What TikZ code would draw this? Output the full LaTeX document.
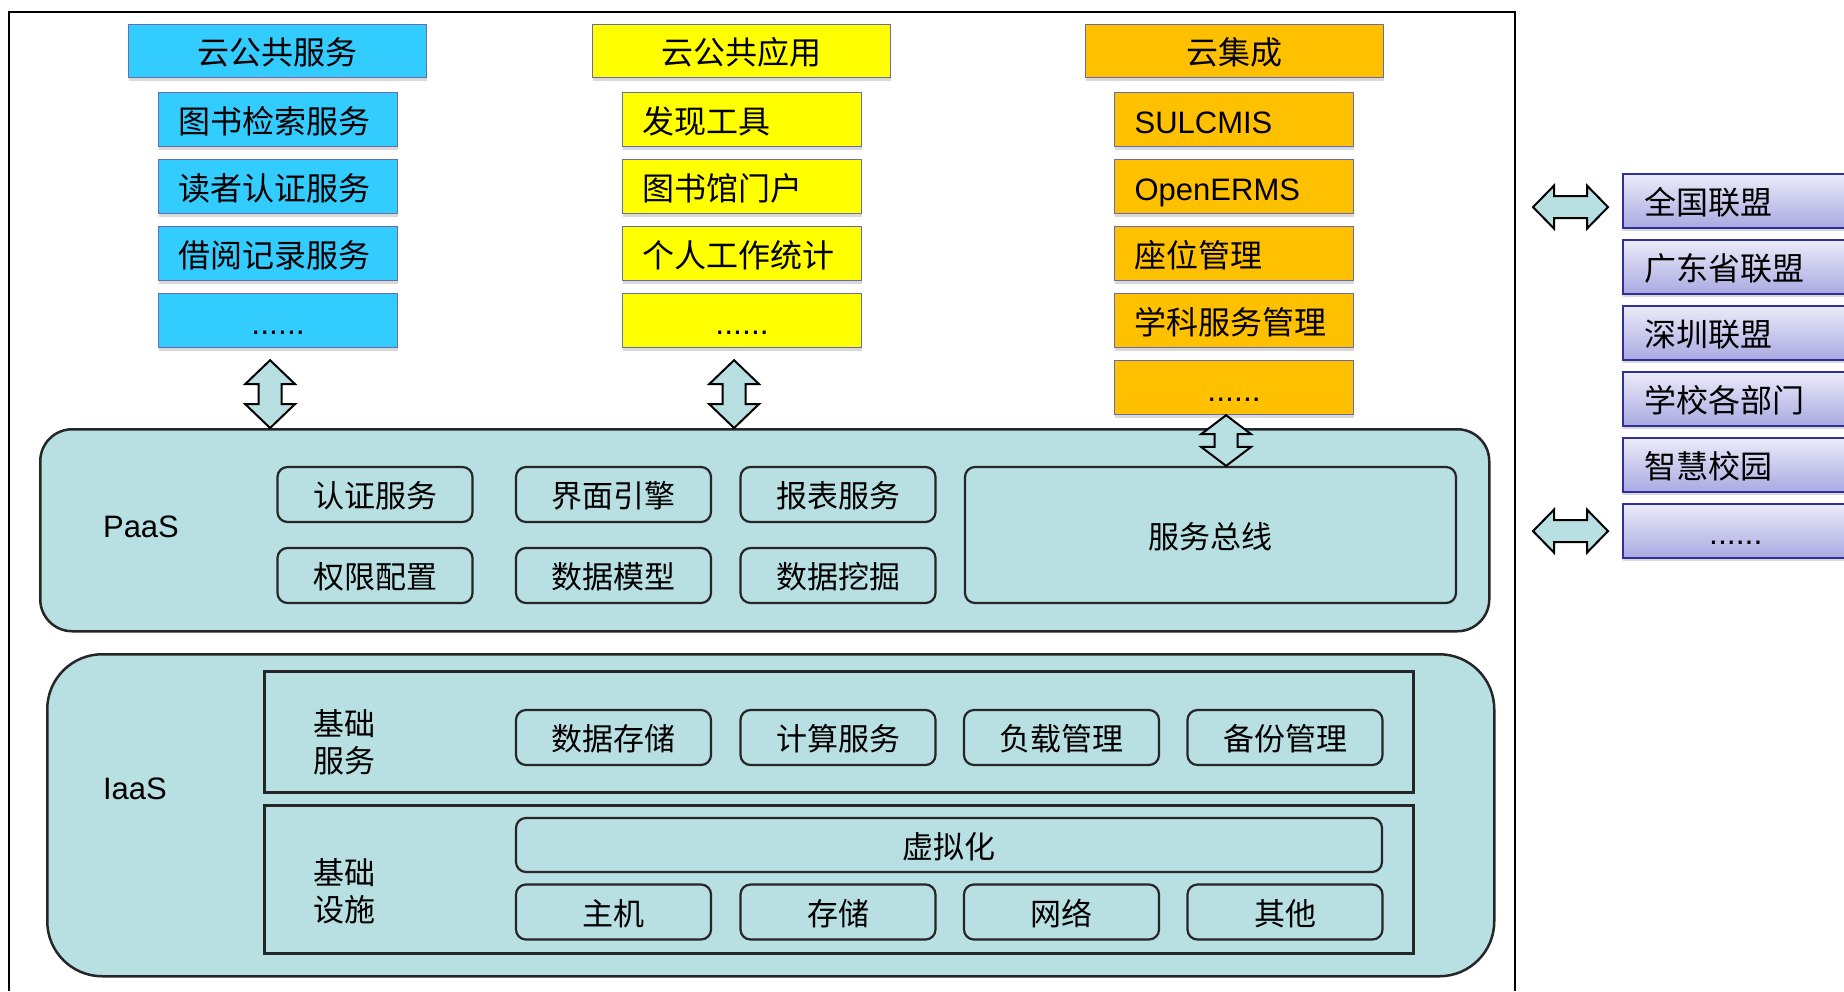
\documentclass[tikz,border=0pt]{standalone}
\usepackage{fontspec}
\setmainfont{Liberation Sans}
\newfontfamily\cjk{Noto Sans CJK SC}
\usepackage{tikz}
\usetikzlibrary{calc}
\usetikzlibrary{shadows}

\definecolor{cloudblue}{HTML}{33CCFF}
\definecolor{cloudyellow}{HTML}{FFFF00}
\definecolor{cloudorange}{HTML}{FFC000}
\definecolor{layerfill}{HTML}{B8DFE2}
\definecolor{boxedge}{HTML}{6A6AAE}
\definecolor{linkedge}{HTML}{30309A}
\definecolor{linktop}{HTML}{EBEBF9}
\definecolor{linkbottom}{HTML}{A9A9E2}

\newcommand{\vbiarrow}[3]{%
  \draw[biarrow] let \p1 = (#1), \p2 = (#2) in
    (\x1, \y1) -- (\x1 + 25pt, \y1 - #3) -- (\x1 + 11.5pt, \y1 - #3)
    -- (\x1 + 11.5pt, \y2 + #3) -- (\x1 + 25pt, \y2 + #3) -- (\x1, \y2)
    -- (\x1 - 25pt, \y2 + #3) -- (\x1 - 11.5pt, \y2 + #3)
    -- (\x1 - 11.5pt, \y1 - #3) -- (\x1 - 25pt, \y1 - #3) -- cycle;}
\newcommand{\hbiarrow}[2]{%
  \draw[biarrow] let \p1 = (#1), \p2 = (#2) in
    (\x1, \y1) -- (\x1 + 21pt, \y1 + 21.5pt) -- (\x1 + 21pt, \y1 + 11pt)
    -- (\x2 - 21pt, \y1 + 11pt) -- (\x2 - 21pt, \y1 + 21.5pt) -- (\x2, \y1)
    -- (\x2 - 21pt, \y1 - 21.5pt) -- (\x2 - 21pt, \y1 - 11pt)
    -- (\x1 + 21pt, \y1 - 11pt) -- (\x1 + 21pt, \y1 - 21.5pt) -- cycle;}

\begin{document}
\begin{tikzpicture}[x = 1pt, y = -1pt,
  boxshadow/.style = {drop shadow = {shadow xshift = 0pt, shadow yshift = -3pt, opacity = .3}},
  headbox/.style = {draw = boxedge, line width = 1.2pt, boxshadow, inner sep = 0pt,
    text height = 29pt, text depth = 2pt, font = \cjk\fontsize{32}{38}\selectfont,
    minimum width = 298pt, minimum height = 53pt, anchor = north west},
  itembox/.style = {headbox, minimum width = 0pt, text width = 199pt, inner xsep = 20pt,
    minimum height = 54pt, align = left},
  dotbox/.style = {itembox, align = center},
  layerbox/.style = {draw = black!85, line width = 2.5pt, fill = layerfill, anchor = north west},
  framebox/.style = {draw = black!85, line width = 2.5pt, anchor = north west},
  modbox/.style = {draw = black!85, line width = 2.2pt, rounded corners = 10pt, fill = layerfill,
    minimum width = 195pt, minimum height = 55pt, inner sep = 0pt,
    text height = 28pt, text depth = 2pt, font = \cjk\fontsize{31}{37}\selectfont},
  layertext/.style = {font = \fontsize{31}{37}\selectfont},
  sidetext/.style = {font = \cjk\fontsize{31}{37}\selectfont, align = center},
  linkbox/.style = {draw = linkedge, line width = 2.2pt, top color = linktop, bottom color = linkbottom,
    boxshadow, text width = 220pt, inner xsep = 21pt, inner ysep = 0pt, minimum height = 54pt,
    text height = 29pt, text depth = 2pt, align = left, anchor = north west,
    font = \cjk\fontsize{32}{38}\selectfont},
  biarrow/.style = {draw = black, line width = 2pt, fill = layerfill, line join = miter}]
  \useasboundingbox (0, 0) rectangle (1844, 991);
  \clip (0, 0) rectangle (1844, 991);
  \draw[line width = 2.5pt] (9, 991) -- (9, 12) -- (1515, 12) -- (1515, 991);

  \node[layerbox, rounded corners = 32pt, minimum width = 1449pt, minimum height = 202pt] (paas) at (39, 428) {};
  \node[layerbox, rounded corners = 55pt, minimum width = 1447pt, minimum height = 322pt] (iaas) at (46, 653) {};
  \node[framebox, minimum width = 1149pt, minimum height = 121pt] (basesvc) at (263, 670) {};
  \node[framebox, minimum width = 1149pt, minimum height = 148pt] (baseinf) at (263, 804) {};

  \node[layertext] (paastext) at (141, 527) {PaaS};
  \node[layertext] (iaastext) at (135, 789) {IaaS};
  \node[sidetext] (svctext) at (344, 742) {基础\\服务};
  \node[sidetext] (inftext) at (344, 891) {基础\\设施};

  \node[modbox] (auth) at (375, 494.5) {认证服务};
  \node[modbox] (ui) at (613.5, 494.5) {界面引擎};
  \node[modbox] (report) at (838, 494.5) {报表服务};
  \node[modbox] (perm) at (375, 575.5) {权限配置};
  \node[modbox] (model) at (613.5, 575.5) {数据模型};
  \node[modbox] (mining) at (838, 575.5) {数据挖掘};
  \node[modbox, minimum width = 491pt, minimum height = 136pt] (bus) at (1210.5, 535) {服务总线};
  \foreach \t/\x [count = \i] in {数据存储/613.5, 计算服务/838, 负载管理/1061.5, 备份管理/1285}
  {
  \node[modbox] (s\i) at (\x, 737.5) {\t};
  }
  \node[modbox, minimum width = 866pt, minimum height = 54pt] (virt) at (949, 845) {虚拟化};
  \foreach \t/\x [count = \i] in {主机/613.5, 存储/838, 网络/1061.5, 其他/1285}
  {
  \node[modbox] (h\i) at (\x, 912) {\t};
  }

  \node[headbox, fill = cloudblue] (bhead) at (128, 24) {云公共服务};
  \foreach \t [count = \i] in {图书检索服务, 读者认证服务, 借阅记录服务}
  {
  \node[itembox, fill = cloudblue] (b\i) at (158, 25 + 67*\i) {\t};
  }
  \node[dotbox, fill = cloudblue] (b4) at (158, 293) {\normalfont ......};

  \node[headbox, fill = cloudyellow] (yhead) at (592, 24) {云公共应用};
  \foreach \t [count = \i] in {发现工具, 图书馆门户, 个人工作统计}
  {
  \node[itembox, fill = cloudyellow] (y\i) at (622, 25 + 67*\i) {\t};
  }
  \node[dotbox, fill = cloudyellow] (y4) at (622, 293) {\normalfont ......};

  \node[headbox, fill = cloudorange] (ohead) at (1085, 24) {云集成};
  \foreach \t [count = \i] in {{\normalfont\fontsize{31}{37}\selectfont SULCMIS}, {\normalfont\fontsize{31}{37}\selectfont OpenERMS}, 座位管理, 学科服务管理}
  {
  \node[itembox, fill = cloudorange] (o\i) at (1114, 25 + 67*\i) {\t};
  }
  \node[dotbox, fill = cloudorange] (o5) at (1114, 360) {\normalfont ......};

  \foreach \t [count = \i] in {全国联盟, 广东省联盟, 深圳联盟, 学校各部门, 智慧校园}
  {
  \node[linkbox] (l\i) at (1622, 107 + 66*\i) {\t};
  }
  \node[linkbox] (l6) at (1622, 503) {\normalfont\hspace*{65pt}......};

  \coordinate (bt) at ($(b4.south) + (-8, 12)$);
  \coordinate (yt) at ($(y4.south) + (-8, 12)$);
  \coordinate (ot) at ($(o5.south) + (-8, 0)$);
  \vbiarrow{bt}{bt |- paas.north}{24pt}
  \vbiarrow{yt}{yt |- paas.north}{24pt}
  \vbiarrow{ot}{ot |- bus.north}{19pt}
  \hbiarrow{$(l1.west) + (-89, 6)$}{$(l1.west) + (-14, 6)$}
  \hbiarrow{$(l6.west) + (-89, 0)$}{$(l6.west) + (-14, 0)$}
\end{tikzpicture}
\end{document}
